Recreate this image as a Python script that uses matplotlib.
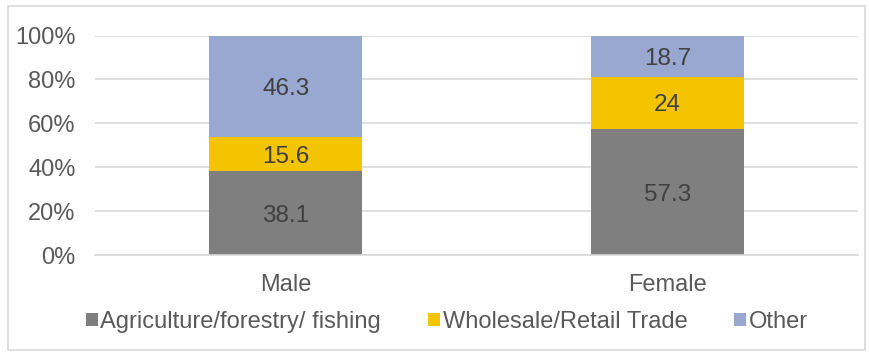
import matplotlib.pyplot as plt
from matplotlib.patches import Rectangle

plt.rcParams['font.family'] = ['Liberation Sans', 'DejaVu Sans']

categories = ["Male", "Female"]
agriculture = [38.1, 57.3]
wholesale = [15.6, 24]
other = [46.3, 18.7]
series_names = ["Agriculture/forestry/ fishing", "Wholesale/Retail Trade", "Other"]
colors = ["#7F7F7F", "#F5C400", "#98A8D0"]

fig = plt.figure(figsize=(8.7, 3.56), dpi=100)
ax = fig.add_axes([95 / 870, 1 - 255 / 356, (858 - 95) / 870, (255 - 35.5) / 356])

x = list(range(len(categories)))
bottom = [0, 0]
for vals, name, col in zip([agriculture, wholesale, other], series_names, colors):
    bars = ax.bar(x, vals, width=0.4, bottom=bottom, color=col, label=name, zorder=2)
    for b, v, b0 in zip(bars, vals, bottom):
        ax.text(b.get_x() + b.get_width() / 2, b0 + v / 2, f"{v:g}",
                ha="center", va="center_baseline", fontsize=17.5, color="#404040", zorder=3)
    bottom = [a + b for a, b in zip(bottom, vals)]

ax.set_xlim(-0.5, 1.5)
ax.set_ylim(0, 100)
ax.set_yticks(range(0, 101, 20))
ax.set_yticklabels([f"{t}%" for t in range(0, 101, 20)])
ax.set_xticks(x)
ax.set_xticklabels(categories)
ax.tick_params(axis="both", length=0, labelsize=17, labelcolor="#595959")
ax.tick_params(axis="x", pad=14)
ax.tick_params(axis="y", pad=14)
ax.grid(axis="y", color="#D9D9D9", linewidth=1.2, zorder=0)
for s in ["top", "right", "left"]:
    ax.spines[s].set_visible(False)
ax.spines["bottom"].set_color("#D9D9D9")
ax.spines["bottom"].set_linewidth(1.2)

fig.legend(loc="center", bbox_to_anchor=(447 / 870, 1 - 322 / 356), ncol=3, frameon=False,
           fontsize=17, handlelength=0.5, handleheight=0.5, handletextpad=0.1,
           columnspacing=2.0, labelcolor="#595959", borderaxespad=0, borderpad=0)

fig.patches.append(Rectangle((8 / 870, 1 - 350 / 356), 857 / 870, 344 / 356,
                             transform=fig.transFigure, fill=False,
                             edgecolor="#D9D9D9", linewidth=1.2))

fig.savefig("out.png", dpi=100)
